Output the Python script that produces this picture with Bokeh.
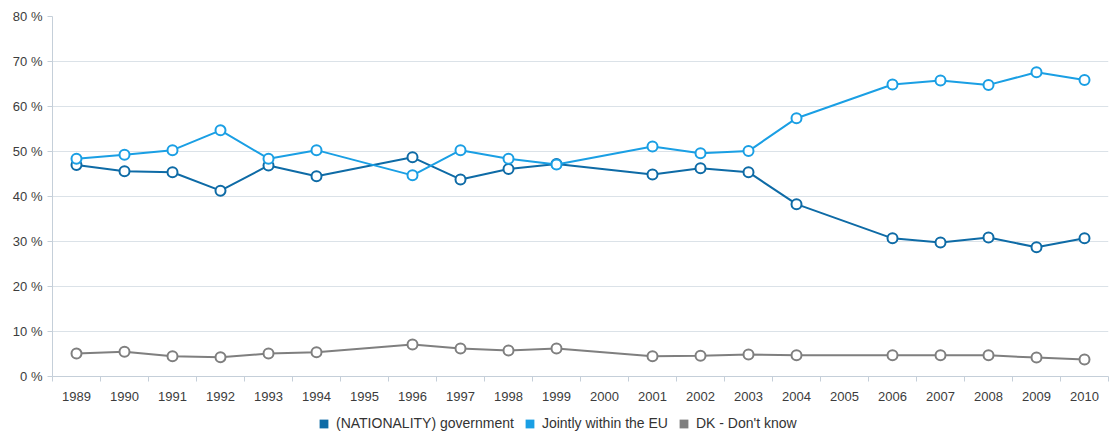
from bokeh.plotting import figure
from bokeh.layouts import column
from bokeh.models import (Range1d, FixedTicker, Legend, LegendItem, ColumnDataSource,
                          LinearAxis)
from bokeh.embed import file_html
from bokeh.resources import INLINE

# ---- data ----
tick_years = ["1989", "1990", "1991", "1992", "1993", "1994", "1995", "1996", "1997",
              "1998", "1999", "2000", "2001", "2002", "2003", "2004", "2005", "2006",
              "2007", "2008", "2009", "2010"]
survey_years = ["1989", "1990", "1991", "1992", "1993", "1994", "1996", "1997", "1998",
                "1999", "2001", "2002", "2003", "2004", "2006", "2007", "2008", "2009", "2010"]
government = [47.0, 45.6, 45.4, 41.3, 46.9, 44.5, 48.7, 43.8, 46.1, 47.2, 44.9, 46.3,
              45.4, 38.3, 30.7, 29.8, 30.9, 28.7, 30.7]
jointly_eu = [48.4, 49.3, 50.3, 54.7, 48.4, 50.3, 44.7, 50.3, 48.4, 47.1, 51.1, 49.6,
              50.1, 57.4, 64.9, 65.8, 64.8, 67.6, 65.9]
dont_know = [5.1, 5.5, 4.5, 4.3, 5.1, 5.4, 7.1, 6.2, 5.8, 6.2, 4.5, 4.6, 4.9, 4.7, 4.7,
             4.7, 4.7, 4.2, 3.8]
series_names = ["(NATIONALITY) government", "Jointly within the EU", "DK - Don't know"]
y_ticks = [0, 10, 20, 30, 40, 50, 60, 70, 80]

colors = ["#0e6ba6", "#1a9fe4", "#7f7f7f"]
FONT = "Liberation Sans"
AXIS_C = "#c5cfd9"
GRID_C = "#dbe2e8"
TEXT_C = "#3c3c3c"

xs = [tick_years.index(y) for y in survey_years]

p = figure(frame_width=1056, frame_height=360, output_backend="svg",
           toolbar_location=None, x_range=Range1d(-0.5, len(tick_years) - 0.5),
           y_range=Range1d(0, 80), x_axis_location=None, y_axis_location=None,
           min_border_left=52, min_border_top=16, min_border_right=12,
           min_border_bottom=30)
p.outline_line_color = None
p.background_fill_color = "white"
p.border_fill_color = "white"

# x axis
xax = LinearAxis()
xax.ticker = FixedTicker(ticks=list(range(len(tick_years))),
                         minor_ticks=[i - 0.5 for i in range(len(tick_years) + 1)])
xax.major_label_overrides = {i: t for i, t in enumerate(tick_years)}
xax.major_tick_out = 0
xax.major_tick_in = 0
xax.minor_tick_out = 5
xax.minor_tick_in = 0
xax.minor_tick_line_color = AXIS_C
xax.axis_line_color = AXIS_C
xax.major_label_standoff = 10
xax.major_label_text_font = FONT
xax.major_label_text_font_size = "13px"
xax.major_label_text_color = TEXT_C
p.add_layout(xax, "below")

# y axis
yax = LinearAxis()
yax.ticker = FixedTicker(ticks=y_ticks)
yax.major_label_overrides = {v: f"{v} %" for v in y_ticks}
yax.major_tick_out = 5
yax.major_tick_in = 0
yax.minor_tick_out = 0
yax.minor_tick_in = 0
yax.major_tick_line_color = AXIS_C
yax.axis_line_color = AXIS_C
yax.major_label_standoff = 5
yax.major_label_text_font = FONT
yax.major_label_text_font_size = "13px"
yax.major_label_text_color = TEXT_C
p.add_layout(yax, "left")

p.xgrid.visible = False
p.ygrid.ticker = FixedTicker(ticks=y_ticks[1:])
p.ygrid.grid_line_color = GRID_C
p.ygrid.grid_line_width = 1

# legend figure (separate strip below the chart)
lf = figure(frame_width=1120, frame_height=36, output_backend="svg",
            toolbar_location=None, x_range=Range1d(0, 1), y_range=Range1d(0, 1),
            x_axis_location=None, y_axis_location=None, min_border=0)
lf.outline_line_color = None
lf.xgrid.visible = False
lf.ygrid.visible = False
lf.border_fill_color = "white"

legend_items = []
for name, vals, c in zip(series_names, [government, jointly_eu, dont_know], colors):
    src = ColumnDataSource(dict(x=xs, y=vals))
    p.line("x", "y", source=src, line_color=c, line_width=2)
    p.scatter("x", "y", source=src, size=10, fill_color="white", line_color=c,
              line_width=2)
    # legend swatch renderer: one square kept outside the strip's visible range
    dummy = lf.quad(left=[5], right=[6], top=[6], bottom=[5], fill_color=c,
                    line_color=None)
    legend_items.append(LegendItem(label=name, renderers=[dummy]))

legend = Legend(items=legend_items, orientation="horizontal", location=(318, 11),
                glyph_width=11, glyph_height=11, label_standoff=7, spacing=10,
                padding=5, margin=0, border_line_color=None, background_fill_alpha=0,
                label_text_font=FONT, label_text_font_size="14px",
                label_text_color="#333333", label_height=13)
lf.add_layout(legend, "center")

layout = column(p, lf, spacing=0)
open("out.html", "w").write(file_html(layout, INLINE))
